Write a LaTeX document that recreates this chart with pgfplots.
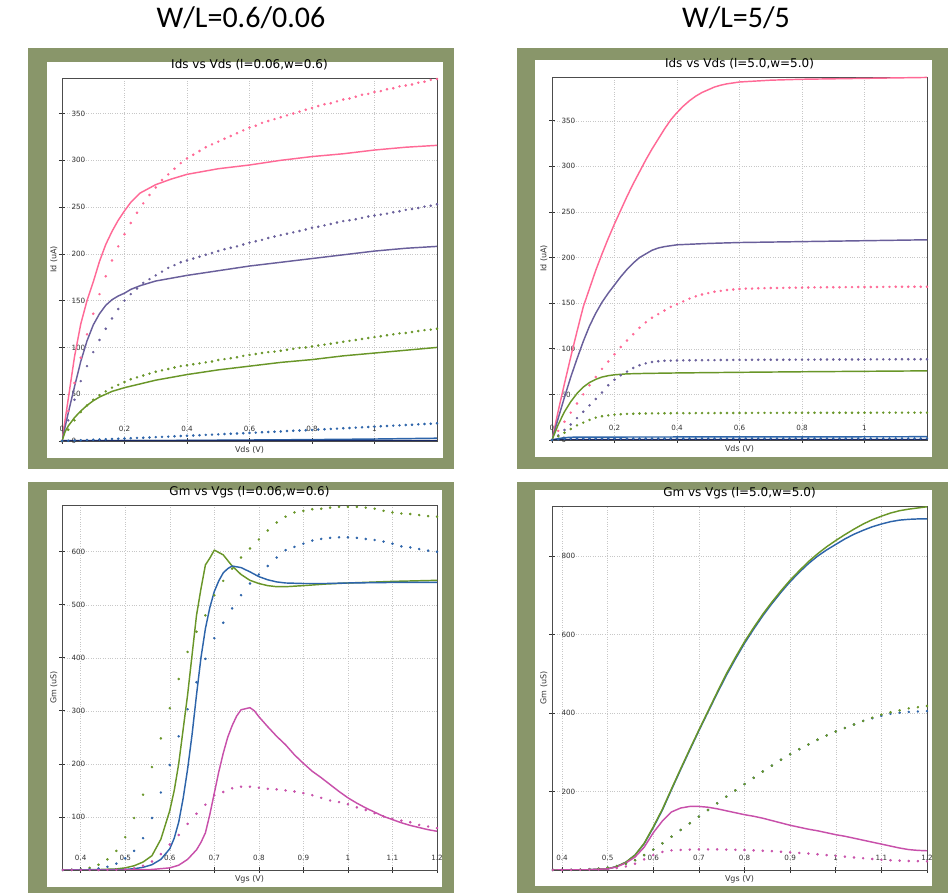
\documentclass[border=0pt]{standalone}
\usepackage{fontspec}
\setmainfont{DejaVu Sans}
\newfontfamily\calibri{Carlito}
\usepackage{pgfplots}
\usepackage{pgfplotstable}
\pgfplotsset{compat=1.18}

\definecolor{framecol}{RGB}{137,150,106}
\definecolor{cpink}{RGB}{255,105,150}
\definecolor{cpurple}{RGB}{105,95,155}
\definecolor{cgreen}{RGB}{105,150,40}
\definecolor{cblue}{RGB}{45,100,170}
\definecolor{cmag}{RGB}{200,80,170}
\definecolor{cnavy}{RGB}{25,40,100}

\pgfplotstableread{
x pink purple green blue
0.00 0 0 0 0
0.02 32 22 12 0.3
0.04 62 44 22 0.5
0.06 89 64 31 0.8
0.08 114 80 38 1.1
0.10 136 95 44 1.3
0.12 157 108 49 1.6
0.14 176 120 53 1.9
0.16 193 131 57 2.1
0.18 208 141 60 2.4
0.20 221 150 63 2.7
0.22 233 157 66 3.0
0.24 244 163 68 3.3
0.26 254 169 70 3.5
0.28 263 173 72 3.8
0.30 271 177 74 4.1
0.32 279 181 75.5 4.4
0.34 285 185 77 4.7
0.36 291 188 78.5 5.0
0.38 297 191 80 5.3
0.40 302 193 81 5.6
0.42 306 195 82 5.9
0.44 310 197 83 6.2
0.46 314 199 84 6.5
0.48 317 201 85 6.8
0.50 320 203 86.5 7.1
0.52 323 205 87.5 7.4
0.54 326 206.5 88.5 7.7
0.56 329 208 89.5 8.0
0.58 332 210 91 8.3
0.60 335 212 92 8.6
0.62 337 213.5 93 8.9
0.64 340 215 94 9.3
0.66 342 217 95 9.6
0.68 344 218.5 95.5 9.9
0.70 346 220 96.5 10.2
0.72 348 221.5 97.5 10.6
0.74 350 223 98.5 10.9
0.76 352 224.5 99.5 11.2
0.78 354 226 100 11.5
0.80 356 228 101 11.9
0.82 358 229 102 12.2
0.84 360 230.5 103 12.5
0.86 361 232 104 12.9
0.88 363 233.5 105 13.2
0.90 365 235 106 13.6
0.92 366 236 107 13.9
0.94 368 237 108 14.3
0.96 370 238.5 109 14.6
0.98 371 240 110 15.0
1.00 373 241 111 15.3
1.02 374 242 112 15.7
1.04 376 243 113 16.0
1.06 377 244.5 114 16.4
1.08 379 245.5 115 16.7
1.10 380 247 115.5 17.1
1.12 381 248 116.5 17.4
1.14 383 249 117.5 17.8
1.16 384 250.5 118.5 18.2
1.18 386 251.5 119 18.5
1.20 387 253 120 18.9
}\tlDots

\pgfplotstableread{
x pink purple green blue
0.00 0 0 0 0
0.02 10 5 4 0.8
0.04 20 11 8 1.3
0.06 30 17 12 1.5
0.08 40 24 16 1.6
0.10 50 31 19 1.7
0.12 60 38 22 1.7
0.14 69 45 24.5 1.7
0.16 78 52 26 1.7
0.18 86 60 27 1.7
0.20 94 66 27.8 1.7
0.22 102 71 28.3 1.7
0.24 109 75 28.6 1.7
0.26 116 79 28.8 1.7
0.28 123 82 29 1.7
0.30 129 84 29.1 1.7
0.32 134 85.5 29.2 1.7
0.34 138 86.3 29.2 1.7
0.36 142 86.8 29.3 1.7
0.38 146 87 29.3 1.7
0.40 149 87.2 29.4 1.7
0.42 152 87.3 29.4 1.7
0.44 155 87.4 29.4 1.8
0.46 157.5 87.5 29.5 1.8
0.48 159.5 87.5 29.5 1.8
0.50 161 87.6 29.5 1.8
0.52 162.5 87.6 29.5 1.8
0.54 163.5 87.7 29.6 1.8
0.56 164.5 87.7 29.6 1.8
0.58 165 87.8 29.6 1.8
0.60 165.5 87.8 29.6 1.8
0.62 166 87.8 29.6 1.8
0.64 166 87.9 29.7 1.8
0.66 166.3 87.9 29.7 1.8
0.68 166.5 87.9 29.7 1.8
0.70 166.6 88 29.7 1.8
0.72 166.7 88 29.7 1.8
0.74 166.8 88 29.7 1.8
0.76 166.9 88 29.8 1.8
0.78 167 88.1 29.8 1.8
0.80 167.1 88.1 29.8 1.8
0.82 167.2 88.1 29.8 1.8
0.84 167.3 88.1 29.8 1.8
0.86 167.3 88.2 29.8 1.8
0.88 167.4 88.2 29.8 1.8
0.90 167.5 88.2 29.9 1.8
0.92 167.5 88.2 29.9 1.8
0.94 167.6 88.3 29.9 1.8
0.96 167.6 88.3 29.9 1.8
0.98 167.7 88.3 29.9 1.8
1.00 167.7 88.3 29.9 1.8
1.02 167.8 88.4 29.9 1.8
1.04 167.8 88.4 30 1.8
1.06 167.9 88.4 30 1.8
1.08 167.9 88.4 30 1.8
1.10 168 88.5 30 1.8
1.12 168 88.5 30 1.8
1.14 168 88.5 30 1.8
1.16 168 88.5 30 1.8
1.18 168 88.5 30 1.8
1.20 168 88.5 30 1.8
}\trDots

\pgfplotstableread{
x green blue mag
0.36 0 0 0
0.38 0.5 0.3 0
0.40 1.5 0.7 0
0.42 4 1.5 0
0.44 10 3 0
0.46 20 6 0.3
0.48 36 12 0.7
0.50 62 22 1.5
0.52 98 36 3
0.54 142 60 8
0.56 194 98 16
0.58 248 146 30
0.60 305 198 48
0.62 360 252 66
0.64 411 303 87
0.66 449 354 106
0.68 480 398 123
0.70 518 437 141
0.72 545 466 147
0.74 568 493 154
0.76 589 518 157
0.78 606 540 157
0.80 623 557 155
0.82 640 573 153
0.84 655 589 152
0.86 666 603 150
0.88 674 609 148
0.90 677 615 145
0.92 680 621 141
0.94 681 624 136
0.96 683 626 131
0.98 684.5 627 128
1.00 684.5 627 124
1.02 684.5 626 118
1.04 683 624 113
1.06 681 622 107
1.08 677 619 101
1.10 674 615 96
1.12 672 610 93
1.14 671 608 90
1.16 669 605 85
1.18 667 602 82
1.20 666 600 79
}\blDots

\pgfplotstableread{
x green blue mag
0.38 0 0 0
0.40 0.3 0.3 0
0.42 0.5 0.5 0.3
0.44 1 1 0.5
0.46 2 2 1
0.48 3.5 3.5 1.5
0.50 6 6 2.5
0.52 10 10 5
0.54 16 16 9
0.56 25 25 16
0.58 38 38 27
0.60 52 52 38
0.62 68 68 46
0.64 85 85 50
0.66 102 102 51
0.68 119 119 52
0.70 136 136 52.5
0.72 153 153 52.5
0.74 170 170 52.5
0.76 187 187 52
0.78 203 203 51.5
0.80 219 219 51
0.82 235 235 50
0.84 251 251 49
0.86 266 266 48
0.88 281 281 46.5
0.90 295 295 45
0.92 308 308 43.5
0.94 320 320 42
0.96 332 332 40
0.98 343 343 38
1.00 353 353 36
1.02 362 362 34
1.04 371 371 32
1.06 380 380 30
1.08 388 387 28
1.10 396 393 26
1.12 402 398 25
1.14 407 401 24
1.16 412 403 23
1.18 415 404 22.5
1.20 418 405 22
}\brDots

\tikzset{ln/.style={line width=1.45pt, line join=round}}
\tikzset{dt/.style={only marks, mark=*, mark size=1.05pt}}

\pgfplotsset{
  panel/.style={
    scale only axis, width=375pt,
    axis line style={black!70, line width=0.9pt},
    grid=major,
    major grid style={dotted, black!22, line width=0.45pt},
    tick align=center, major tick length=6pt,
    tick style={black!80, line width=0.7pt},
    tick pos=left,
    ticklabel style={font=\fontsize{7.2}{8}\selectfont, text=black!80},
    yticklabel style={anchor=west, xshift=9pt},
    xticklabel style={anchor=base, yshift=12pt},
    title style={at={(0.5,1)}, anchor=base, yshift=3.5pt, font=\fontsize{12}{14}\selectfont},
    xlabel style={at={(axis description cs:0.5,-0.025)}, anchor=center, font=\fontsize{8}{9}\selectfont, text=black!80},
    ylabel style={at={(axis description cs:-0.0215,0.5)}, anchor=center, font=\fontsize{8}{9}\selectfont, text=black!80},
  },
}

\begin{document}
\begin{tikzpicture}
\fill[white] (0pt,0pt) rectangle (948pt,893pt);
\node[font=\calibri\fontsize{30}{36}\selectfont] at (241pt,875pt) {W/L=0.6/0.06};
\node[font=\calibri\fontsize{30}{36}\selectfont] at (736pt,875pt) {W/L=5/5};
\fill[framecol] (27.7pt,423.7pt) rectangle (454.3pt,844.7pt);
\fill[white] (47.3pt,435.3pt) rectangle (442.7pt,831.3pt);
\fill[framecol] (517pt,423.7pt) rectangle (948pt,844.7pt);
\fill[white] (535pt,436pt) rectangle (932pt,833pt);
\fill[framecol] (27.7pt,0pt) rectangle (454.3pt,410.7pt);
\fill[white] (47pt,6pt) rectangle (442pt,403pt);
\fill[framecol] (517pt,0pt) rectangle (948pt,410.7pt);
\fill[white] (535pt,7pt) rectangle (932pt,403pt);

% ---------- top left
\begin{axis}[panel, at={(62pt,452pt)}, anchor=south west, height=363pt,
  xmin=0, xmax=1.2, ymin=0, ymax=388,
  xtick={0,0.2,0.4,0.6,0.8,1}, xticklabels={0,0.2,0.4,0.6,0.8,1},
  ytick={0,50,100,150,200,250,300,350}, yticklabels={0,50,100,150,200,250,300,350},
  title={Ids vs Vds (l=0.06,w=0.6)}, xlabel={Vds (V)}, ylabel={Id (uA)}]
\addplot[dt, cpink] table[x=x, y=pink] {\tlDots};
\addplot[dt, cpurple] table[x=x, y=purple] {\tlDots};
\addplot[dt, cgreen] table[x=x, y=green] {\tlDots};
\addplot[dt, cblue] table[x=x, y=blue] {\tlDots};
\addplot[ln, cpink] coordinates {(0,0)(0.02,45)(0.04,90)(0.06,125)(0.08,150)(0.1,170)(0.12,192)(0.14,210)(0.16,224)(0.18,236)(0.2,246)(0.22,255)(0.25,265)(0.3,274)(0.35,280)(0.4,285)(0.5,291)(0.6,295)(0.7,300)(0.8,304)(0.9,307)(1.0,311)(1.1,314)(1.2,316)};
\addplot[ln, cpurple] coordinates {(0,0)(0.02,30)(0.04,58)(0.06,85)(0.08,107)(0.1,124)(0.12,136)(0.14,145)(0.16,151)(0.18,155)(0.2,158)(0.22,162)(0.25,166)(0.3,171)(0.4,177)(0.5,182)(0.6,187)(0.7,191)(0.8,195)(0.9,199)(1.0,203)(1.1,206)(1.2,208)};
\addplot[ln, cgreen] coordinates {(0,0)(0.01,10)(0.02,16)(0.04,25)(0.06,32)(0.08,38)(0.1,43)(0.12,47)(0.14,50)(0.16,53)(0.18,55)(0.2,57)(0.25,61)(0.3,65)(0.35,68)(0.4,71)(0.5,76)(0.6,80)(0.7,84)(0.8,87)(0.9,91)(1.0,94)(1.1,97)(1.2,100)};
\addplot[ln, cblue] coordinates {(0,0)(0.4,0.6)(0.8,1.5)(1.0,2.1)(1.2,3)};
\addplot[ln, cnavy] coordinates {(0,0.3)(1.2,0.5)};
\end{axis}

% ---------- top right
\begin{axis}[panel, at={(552pt,453pt)}, anchor=south west, height=363pt,
  xmin=0, xmax=1.2, ymin=0, ymax=398,
  xtick={0,0.2,0.4,0.6,0.8,1}, xticklabels={0,0.2,0.4,0.6,0.8,1},
  ytick={0,50,100,150,200,250,300,350}, yticklabels={0,50,100,150,200,250,300,350},
  title={Ids vs Vds (l=5.0,w=5.0)}, xlabel={Vds (V)}, ylabel={Id (uA)}]
\addplot[dt, cpink] table[x=x, y=pink] {\trDots};
\addplot[dt, cpurple] table[x=x, y=purple] {\trDots};
\addplot[dt, cgreen] table[x=x, y=green] {\trDots};
\addplot[dt, cblue] table[x=x, y=blue] {\trDots};
\addplot[ln, cpink] coordinates {(0,0)(0.02,32)(0.04,62)(0.06,91)(0.08,119)(0.1,146)(0.12,166)(0.14,186)(0.16,204)(0.18,221)(0.2,237)(0.22,252)(0.24,267)(0.26,281)(0.28,294)(0.3,307)(0.32,319)(0.34,330)(0.36,341)(0.38,351)(0.4,359)(0.42,366)(0.44,372)(0.46,377)(0.48,381)(0.5,384)(0.52,387)(0.54,389)(0.56,390.5)(0.58,391.5)(0.6,392.5)(0.7,394.5)(0.8,395.5)(1.0,396.5)(1.2,397.5)};
\addplot[ln, cpurple] coordinates {(0,0)(0.02,24)(0.04,47)(0.06,69)(0.08,89)(0.1,108)(0.12,125)(0.14,139)(0.16,151)(0.18,161)(0.2,170)(0.22,179)(0.24,187)(0.26,194)(0.28,200)(0.3,204)(0.32,208)(0.34,210.5)(0.36,212)(0.38,213)(0.4,214)(0.5,215.5)(0.6,216.5)(0.8,217.5)(1.0,218.5)(1.2,219.5)};
\addplot[ln, cgreen] coordinates {(0,0)(0.02,17)(0.04,31)(0.06,42)(0.08,51)(0.1,58)(0.12,63)(0.14,66.5)(0.16,69)(0.18,70.5)(0.2,71.5)(0.24,72.5)(0.3,73)(0.4,73.5)(0.6,74.2)(0.8,74.8)(1.0,75.3)(1.2,75.8)};
\addplot[ln, cblue] coordinates {(0,0)(0.02,1.5)(0.04,2.5)(0.06,3)(0.1,3.2)(1.2,3.6)};
\addplot[ln, cnavy] coordinates {(0,0.3)(1.2,0.5)};
\end{axis}

% ---------- bottom left
\begin{axis}[panel, at={(62pt,23pt)}, anchor=south west, height=365pt,
  xmin=0.358, xmax=1.2, ymin=0, ymax=688,
  xtick={0.4,0.5,0.6,0.7,0.8,0.9,1,1.1,1.2}, xticklabels={0.4,0.5,0.6,0.7,0.8,0.9,1,1.1,1.2},
  ytick={100,200,300,400,500,600}, yticklabels={100,200,300,400,500,600},
  title={Gm vs Vgs (l=0.06,w=0.6)}, xlabel={Vgs (V)}, ylabel={Gm (uS)}]
\addplot[dt, cgreen] table[x=x, y=green] {\blDots};
\addplot[dt, cblue] table[x=x, y=blue] {\blDots};
\addplot[dt, cmag] table[x=x, y=mag] {\blDots};
\addplot[ln, cgreen] coordinates {(0.36,0)(0.4,0.3)(0.44,0.8)(0.48,2)(0.5,4)(0.52,8)(0.54,15)(0.56,27)(0.58,58)(0.6,112)(0.61,150)(0.62,200)(0.63,265)(0.64,330)(0.65,405)(0.66,480)(0.67,530)(0.68,575)(0.69,588)(0.7,603)(0.72,594)(0.74,573)(0.76,557)(0.78,546)(0.8,540)(0.82,536)(0.84,534)(0.86,534)(0.88,535)(0.9,536)(0.95,539)(1.0,541)(1.1,544)(1.2,546)};
\addplot[ln, cblue] coordinates {(0.36,0)(0.45,0.3)(0.5,1)(0.52,2.5)(0.54,5)(0.56,10)(0.58,20)(0.6,40)(0.61,60)(0.62,90)(0.63,135)(0.64,190)(0.65,255)(0.66,330)(0.67,400)(0.68,455)(0.69,495)(0.7,525)(0.71,545)(0.72,560)(0.73,568)(0.74,573)(0.76,570)(0.78,562)(0.8,553)(0.82,547)(0.84,543)(0.86,541)(0.9,540)(0.95,540)(1.0,541)(1.1,542)(1.2,542)};
\addplot[ln, cmag] coordinates {(0.36,0)(0.5,0)(0.56,1)(0.6,4)(0.62,9)(0.64,20)(0.66,38)(0.67,52)(0.68,70)(0.69,105)(0.7,145)(0.71,185)(0.72,220)(0.73,250)(0.74,272)(0.75,290)(0.76,302)(0.77,304)(0.78,306)(0.79,300)(0.8,289)(0.82,270)(0.84,252)(0.86,236)(0.88,217)(0.9,201)(0.92,186)(0.94,174)(0.96,161)(0.98,148)(1.0,136)(1.02,126)(1.04,117)(1.06,109)(1.08,101)(1.1,95)(1.12,89)(1.14,84)(1.16,80)(1.18,76)(1.2,73)};
\end{axis}

% ---------- bottom right
\begin{axis}[panel, at={(552pt,23pt)}, anchor=south west, height=364pt,
  xmin=0.378, xmax=1.2, ymin=0, ymax=928,
  xtick={0.4,0.5,0.6,0.7,0.8,0.9,1,1.1,1.2}, xticklabels={0.4,0.5,0.6,0.7,0.8,0.9,1,1.1,1.2},
  ytick={200,400,600,800}, yticklabels={200,400,600,800},
  title={Gm vs Vgs (l=5.0,w=5.0)}, xlabel={Vgs (V)}, ylabel={Gm (uS)}]
\addplot[dt, cblue] table[x=x, y=blue] {\brDots};
\addplot[dt, cgreen] table[x=x, y=green] {\brDots};
\addplot[dt, cmag] table[x=x, y=mag] {\brDots};
\addplot[ln, cblue] coordinates {(0.378,0)(0.45,0.3)(0.5,3)(0.52,9)(0.54,20)(0.56,38)(0.58,67)(0.6,108)(0.62,153)(0.64,205)(0.66,256)(0.68,306)(0.7,355)(0.72,403)(0.74,450)(0.76,496)(0.78,538)(0.8,578)(0.82,614)(0.84,648)(0.86,679)(0.88,708)(0.9,735)(0.92,759)(0.94,781)(0.96,800)(0.98,816)(1.0,830)(1.02,844)(1.04,856)(1.06,866)(1.08,875)(1.1,882)(1.12,888)(1.14,892)(1.16,894)(1.18,895)(1.2,895)};
\addplot[ln, cgreen] coordinates {(0.378,0)(0.45,0.3)(0.5,3)(0.52,9)(0.54,20)(0.56,38)(0.58,68)(0.6,110)(0.62,155)(0.64,207)(0.66,258)(0.68,308)(0.7,357)(0.72,405)(0.74,453)(0.76,500)(0.78,542)(0.8,582)(0.82,618)(0.84,652)(0.86,683)(0.88,712)(0.9,739)(0.92,763)(0.94,786)(0.96,806)(0.98,824)(1.0,840)(1.02,855)(1.04,869)(1.06,882)(1.08,893)(1.1,902)(1.12,910)(1.14,916)(1.16,920)(1.18,923)(1.2,926)};
\addplot[ln, cmag] coordinates {(0.378,0)(0.45,0.3)(0.5,3)(0.52,8)(0.54,18)(0.56,33)(0.58,58)(0.6,95)(0.62,125)(0.64,148)(0.66,158)(0.68,162)(0.7,162)(0.72,160)(0.74,156)(0.76,151)(0.78,146)(0.8,141)(0.82,137)(0.84,132)(0.86,126)(0.88,120)(0.9,114)(0.92,109)(0.94,104)(0.96,100)(0.98,95)(1.0,90)(1.02,86)(1.04,81)(1.06,76)(1.08,71)(1.1,66)(1.12,61)(1.14,56)(1.16,52)(1.18,50)(1.2,49)};
\end{axis}
\pgfresetboundingbox
\useasboundingbox (0pt,0pt) rectangle (948pt,893pt);
\end{tikzpicture}
\end{document}
